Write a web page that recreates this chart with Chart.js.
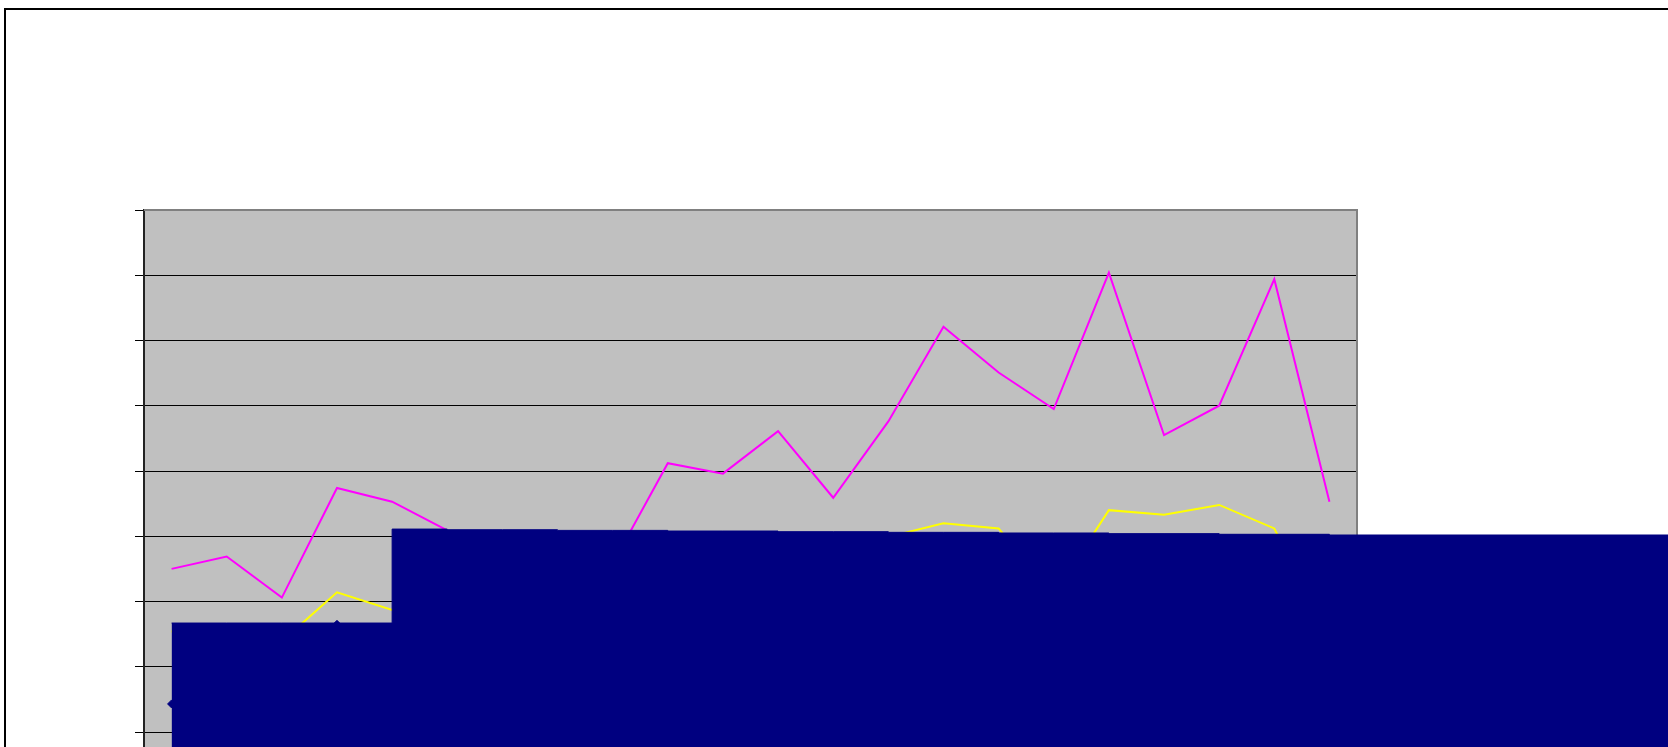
<!DOCTYPE html>
<html>
<head>
<meta charset="utf-8">
<title>Chart</title>
<script src="https://cdn.jsdelivr.net/npm/chart.js@4.4.1/dist/chart.umd.min.js"></script>
<style>
  html, body { margin: 0; padding: 0; background: #fff; overflow: hidden; }
  #frame { position: absolute; left: 4px; top: 8px; width: 1900px; height: 1100px; border: 2px solid #000; }
  #chart { position: absolute; left: 0; top: 0; }
</style>
</head>
<body>
<div id="frame"></div>
<canvas id="chart" width="1800" height="960"></canvas>
<script>
// 22 categories, no axis labels are visible in the picture
const categories = ['1', '2', '3', '4', '5', '6', '7', '8', '9', '10', '11',
                    '12', '13', '14', '15', '16', '17', '18', '19', '20', '21', '22'];

// value axis: gridline every 10 (labels not shown)
const yMin = 0;
const yMax = 100;
const yStep = 10;

// series (hidden stretches estimated)
const magentaSeries = [45.0, 46.9, 40.6, 57.4, 55.3, 50.9, 46.0, 44.0, 45.8, 61.2, 59.6,
                       66.1, 55.9, 67.6, 82.1, 75.1, 69.5, 90.4, 65.5, 70.0, 89.4, 55.3];
const yellowSeries = [35.4, 36.1, 33.9, 41.4, 38.7, 41.8, 40.3, 39.5, 41.0, 46.4, 45.6,
                      47.9, 44.1, 49.9, 52.0, 51.2, 41.0, 54.0, 53.3, 54.8, 51.2, 34.7];
const navySeries = [24.3, 28.0, 31.0, 36.5, 34.0, 38.0, 36.0, 35.0, 37.0, 40.0, 41.0,
                    43.0, 40.0, 44.0, 46.0, 45.0, 42.0, 47.0, 46.0, 45.0, 47.0, 44.0];

// the solid navy block that covers the lower part of the plot
const navyBlockTop = [36.7, 36.7, 36.7, 36.7, 51.1, 51.0, 51.0, 50.9, 50.9, 50.8, 50.8,
                      50.7, 50.7, 50.6, 50.6, 50.5, 50.5, 50.4, 50.4, 50.3, 50.3, 50.2];
const navyTailTop = 50.2;

const NAVY = '#000080';

// grey plot area with grey top/right edge, like the Excel default
const plotFrame = {
    id: 'plotFrame',
    beforeDraw(chart) {
        const { ctx, chartArea: a } = chart;
        ctx.save();
        ctx.fillStyle = '#C0C0C0';
        ctx.fillRect(a.left, a.top, a.right - a.left, a.bottom - a.top);
        ctx.restore();
    },
    beforeDatasetsDraw(chart) {
        const { ctx, chartArea: a } = chart;
        ctx.save();
        ctx.strokeStyle = '#808080';
        ctx.lineWidth = 2;
        ctx.beginPath();
        ctx.moveTo(a.left, a.top);
        ctx.lineTo(a.right, a.top);
        ctx.lineTo(a.right, a.bottom);
        ctx.stroke();
        ctx.restore();
    }
};

const ctx = document.getElementById('chart').getContext('2d');

const chart = new Chart(ctx, {
    type: 'line',
    data: {
        labels: categories,
        datasets: [
            {
                label: 'block',
                data: navyBlockTop,
                stepped: true,
                fill: 'start',
                backgroundColor: NAVY,
                borderColor: NAVY,
                borderWidth: 1,
                pointRadius: 0,
                order: 0
            },
            {
                // the block runs on past the right edge of the plot
                type: 'bar',
                label: 'block tail',
                data: [{ x: categories[categories.length - 1], y: navyTailTop }],
                backgroundColor: NAVY,
                borderWidth: 0,
                barThickness: 700,
                clip: false,
                order: 0
            },
            {
                label: 'Series 1',
                data: navySeries,
                borderColor: NAVY,
                backgroundColor: NAVY,
                borderWidth: 2,
                pointStyle: 'rectRot',
                pointRadius: 4,
                pointBorderWidth: 1,
                order: 3
            },
            {
                label: 'Series 2',
                data: magentaSeries,
                borderColor: '#FF00FF',
                borderWidth: 2,
                pointRadius: 0,
                order: 2
            },
            {
                label: 'Series 3',
                data: yellowSeries,
                borderColor: '#FFFF00',
                borderWidth: 2,
                pointRadius: 0,
                order: 1
            }
        ]
    },
    options: {
        responsive: false,
        devicePixelRatio: 1,
        animation: false,
        events: [],
        layout: {
            padding: { left: 135, top: 210, right: 443, bottom: 97.5 }
        },
        plugins: {
            legend: { display: false },
            title: { display: false },
            tooltip: { enabled: false }
        },
        scales: {
            x: {
                display: false,
                offset: true
            },
            y: {
                min: yMin,
                max: yMax,
                ticks: { stepSize: yStep, display: false },
                grid: {
                    color: '#000',
                    lineWidth: 1,
                    drawTicks: true,
                    tickLength: 9
                },
                border: { display: true, color: '#222', width: 2 }
            }
        }
    },
    plugins: [plotFrame]
});
</script>
</body>
</html>
